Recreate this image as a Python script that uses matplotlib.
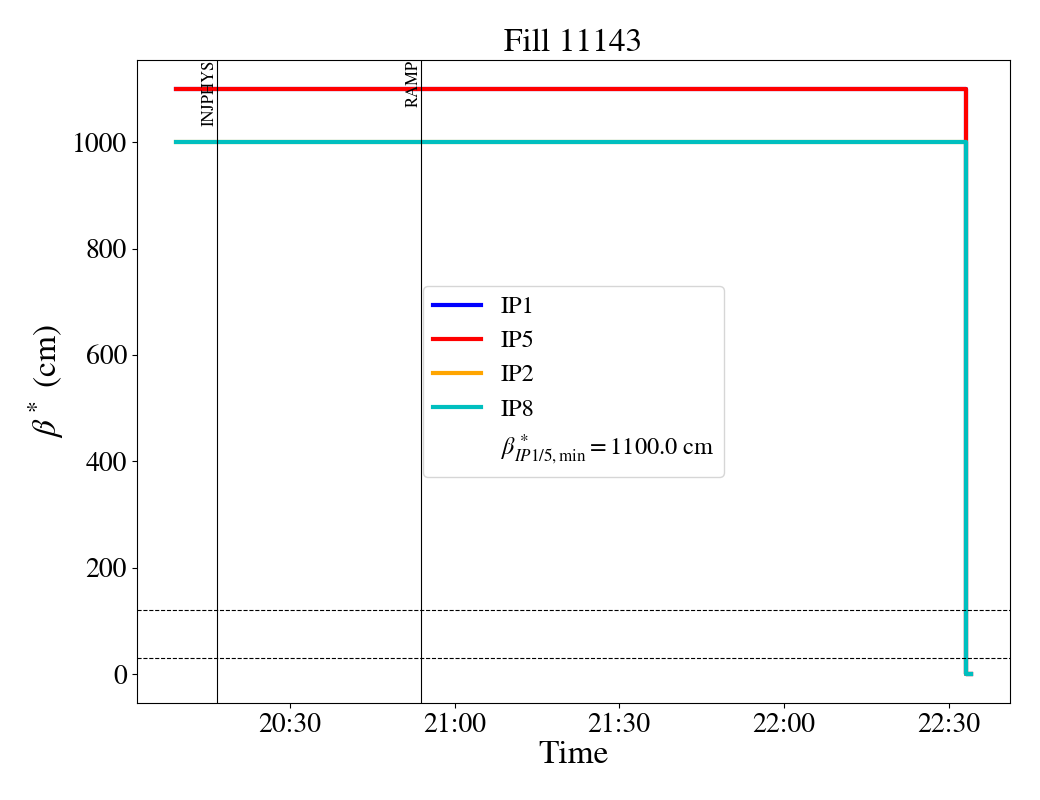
import matplotlib
matplotlib.use("Agg")
import matplotlib.pyplot as plt
import matplotlib.dates as mdates
import pandas as pd

plt.rcParams['font.family'] = ['STIXGeneral', 'DejaVu Serif']
plt.rcParams['mathtext.fontset'] = 'stix'

day = "2025-08-31 "
times = ["20:09:20", "22:33:15", "22:33:15", "22:34:00"]
ip1 = [1100, 1100, 0, 0]
ip5 = [1100, 1100, 0, 0]
ip2 = [1000, 1000, 0, 0]
ip8 = [1000, 1000, 0, 0]
series_names = ["IP1", "IP5", "IP2", "IP8"]
series_colors = ["blue", "red", "orange", "c"]
events = ["INJPHYS", "RAMP"]
event_times = ["20:16:49", "20:53:56"]
hlines = [120, 30]
beta_min = 1100.0

t = pd.to_datetime([day + s for s in times])
fig, ax = plt.subplots(figsize=(10.4, 8), dpi=100)
for name, vals, col in zip(series_names, [ip1, ip5, ip2, ip8], series_colors):
    ax.plot(t, vals, color=col, lw=3, label=name)
ax.plot([], [], ' ', label=r'$\beta^*_{IP1/5, \mathrm{min}} = %.1f$ cm' % beta_min)

for y in hlines:
    ax.axhline(y, color='k', ls='--', lw=0.8)

ymax = ax.get_ylim()[1]
for name, et in zip(events, event_times):
    xt = pd.to_datetime(day + et)
    ax.axvline(xt, color='k', lw=0.8)
    ax.text(xt, ymax, name, rotation=90, va='top', ha='right', fontsize=12)

ax.xaxis.set_major_formatter(mdates.DateFormatter('%H:%M'))
ax.xaxis.set_major_locator(mdates.MinuteLocator(byminute=[0, 30]))
ax.tick_params(labelsize=20)
ax.set_xlabel('Time', fontsize=24, labelpad=2)
ax.set_ylabel(r'$\beta^*$ (cm)', fontsize=24)
ax.set_title('Fill 11143', fontsize=24)
ax.legend(loc='center', fontsize=17.5)
fig.subplots_adjust(left=0.1314, right=0.9714, top=0.9254, bottom=0.1209)
fig.savefig('out.png', dpi=100)
